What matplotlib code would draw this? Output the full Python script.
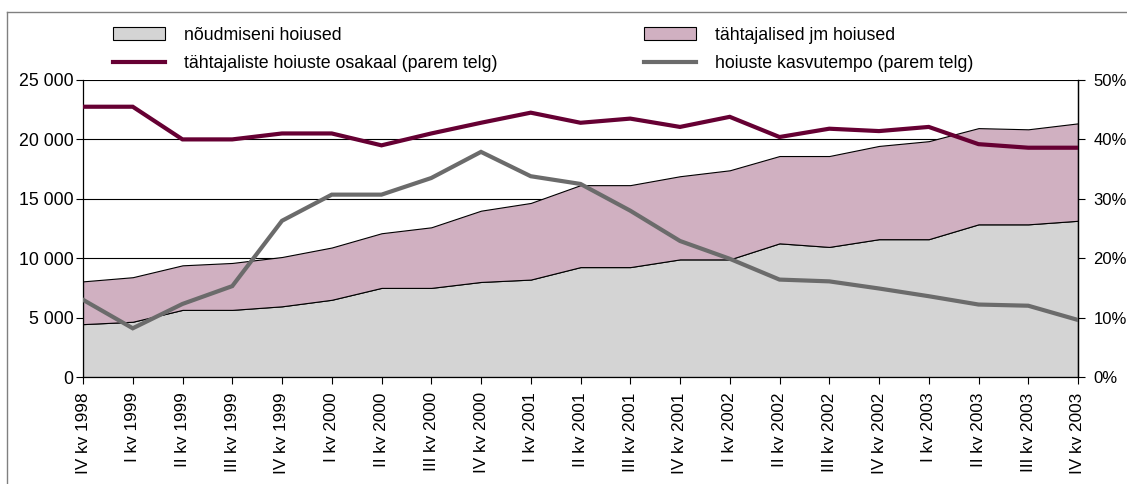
import matplotlib
matplotlib.use("Agg")
import matplotlib.pyplot as plt
from matplotlib.ticker import FuncFormatter, MultipleLocator
from matplotlib.patches import Patch
from matplotlib.lines import Line2D

plt.rcParams['font.family'] = ['Liberation Sans', 'DejaVu Sans']

quarters = ["IV kv 1998", "I kv 1999", "II kv 1999", "III kv 1999", "IV kv 1999",
            "I kv 2000", "II kv 2000", "III kv 2000", "IV kv 2000",
            "I kv 2001", "II kv 2001", "III kv 2001", "IV kv 2001",
            "I kv 2002", "II kv 2002", "III kv 2002", "IV kv 2002",
            "I kv 2003", "II kv 2003", "III kv 2003", "IV kv 2003"]

demand = [4450, 4650, 5650, 5650, 5950, 6500, 7500, 7500, 8000, 8200,
          9250, 9250, 9900, 9900, 11250, 10950, 11600, 11600, 12850, 12850, 13150]
total = [8050, 8400, 9400, 9600, 10100, 10900, 12100, 12600, 14000, 14650,
         16150, 16150, 16900, 17400, 18600, 18600, 19450, 19850, 20950, 20850, 21350]
time_dep = [t - d for t, d in zip(total, demand)]

share = [45.5, 45.5, 40.0, 40.0, 41.0, 41.0, 39.0, 41.0, 42.8, 44.5,
         42.8, 43.5, 42.1, 43.8, 40.4, 41.8, 41.4, 42.1, 39.2, 38.6, 38.6]
growth = [13.0, 8.2, 12.3, 15.3, 26.3, 30.7, 30.7, 33.5, 37.9, 33.8,
          32.5, 28.0, 22.9, 19.9, 16.4, 16.1, 14.9, 13.6, 12.2, 12.0, 9.6]

labels = ["nõudmiseni hoiused", "tähtajalised jm hoiused",
          "tähtajaliste hoiuste osakaal (parem telg)", "hoiuste kasvutempo (parem telg)"]

c_demand = "#D4D4D4"
c_time = "#D0B0C1"
c_share = "#660033"
c_growth = "#6B6B6B"

W, H = 1127, 484
fig = plt.figure(figsize=(W / 100, H / 100), dpi=100)
# outer frame: only left and top edges are visible in the picture
fig.add_artist(Line2D([7 / W, 7 / W], [0, 1 - 12 / H], transform=fig.transFigure,
                      color="#808080", linewidth=1.0))
fig.add_artist(Line2D([7 / W, 1], [1 - 12 / H, 1 - 12 / H], transform=fig.transFigure,
                      color="#808080", linewidth=1.0))

ax = fig.add_axes([83 / W, 1 - 377 / H, (1078 - 83) / W, (377 - 80) / H])
x = list(range(len(quarters)))

ax.stackplot(x, demand, time_dep, colors=[c_demand, c_time],
             edgecolor="black", linewidth=0.8, zorder=2)
ax.set_xlim(0, len(quarters) - 1)
ax.set_ylim(0, 25000)
ax.yaxis.set_major_locator(MultipleLocator(5000))
ax.yaxis.set_major_formatter(FuncFormatter(lambda v, p: f"{int(v):,}".replace(",", " ")))
ax.grid(axis="y", color="black", linewidth=0.8, zorder=1)
ax.set_axisbelow(True)
ax.set_xticks(x)
ax.set_xticklabels(quarters, rotation=90, fontsize=12.4)
ax.tick_params(axis="y", labelsize=12.8, length=5, width=0.8, direction="out", pad=2)
ax.tick_params(axis="x", length=5, width=0.8, direction="out", pad=6)
ax.spines["top"].set_visible(False)
for s in ["left", "bottom", "right"]:
    ax.spines[s].set_linewidth(0.9)
    ax.spines[s].set_color("black")

ax2 = ax.twinx()
ax2.plot(x, growth, color=c_growth, linewidth=3, solid_joinstyle="miter", zorder=3)
ax2.plot(x, share, color=c_share, linewidth=3, solid_joinstyle="miter", zorder=4)
ax2.set_ylim(0, 50)
ax2.yaxis.set_major_locator(MultipleLocator(10))
ax2.yaxis.set_major_formatter(FuncFormatter(lambda v, p: f"{int(v)}%"))
ax2.tick_params(axis="y", labelsize=12.0, length=5, width=0.8, direction="out", pad=6)
ax2.spines["top"].set_visible(False)
ax2.spines["left"].set_visible(False)
ax2.spines["bottom"].set_visible(False)
ax2.spines["right"].set_linewidth(0.9)
ax2.set_xlim(0, len(quarters) - 1)

handles = [Patch(facecolor=c_demand, edgecolor="black", linewidth=0.8),
           Line2D([], [], color=c_share, linewidth=3),
           Patch(facecolor=c_time, edgecolor="black", linewidth=0.8),
           Line2D([], [], color=c_growth, linewidth=3)]
hl = [labels[0], labels[2], labels[1], labels[3]]
fig.legend(handles, hl, ncol=2, frameon=False, fontsize=12.8,
           loc="upper left", bbox_to_anchor=(113 / W, 1 - 27 / H),
           borderpad=0, borderaxespad=0,
           handlelength=2.9, handleheight=0.75, handletextpad=1.1,
           columnspacing=8.25, labelspacing=0.62)

fig.savefig("out.png", dpi=100)
